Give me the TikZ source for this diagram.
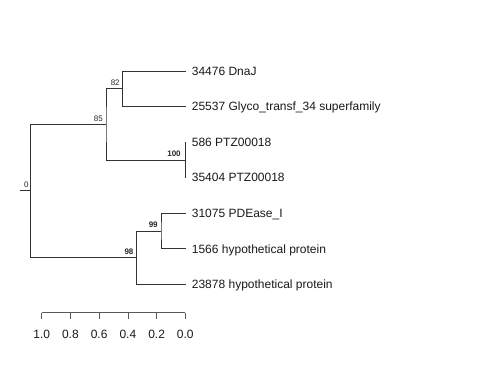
\documentclass[tikz,border=0pt]{standalone}
\usepackage{fontspec}
\setmainfont{Liberation Sans}
\begin{document}
\begin{tikzpicture}[x=1pt,y=-1pt,
  edge/.style={draw=black!80,line width=0.8pt},
  axisline/.style={draw=black!65,line width=0.8pt},
  leaf/.style={anchor=base west,inner sep=0pt,font=\fontsize{12}{14}\selectfont,text=black!90},
  support/.style={anchor=base,inner sep=0pt,font=\fontsize{8}{9}\selectfont,text=black!85},
  bsupport/.style={support,font=\fontsize{8}{9}\selectfont\bfseries},
  ticklab/.style={anchor=base,inner sep=0pt,font=\fontsize{12}{14}\selectfont,text=black!90}]
\useasboundingbox (0,0) rectangle (480,384);
% internal nodes
\coordinate (rs) at (20,190.8);
\coordinate (r) at (30.7,190.8);
\coordinate (n85) at (106,124.3);
\coordinate (n82) at (122.5,88.7);
\coordinate (n100) at (185.5,160);
\coordinate (n98) at (136.7,257.5);
\coordinate (n99) at (161,230.9);
% leaves
\coordinate (l1) at (185.5,71);
\coordinate (l2) at (185.5,106.5);
\coordinate (l3) at (185.5,142.1);
\coordinate (l4) at (185.5,177.6);
\coordinate (l5) at (185.5,213.2);
\coordinate (l6) at (185.5,248.8);
\coordinate (l7) at (185.5,284.3);
% edges
\draw[edge] (rs) -- (r);
\draw[edge] (n85) -| (r) |- (n98);
\draw[edge] (n82) -| (n85) |- (n100);
\draw[edge] (l1) -| (n82) |- (l2);
\draw[edge] (l3) -- (l4);
\draw[edge] (n99) -| (n98) |- (l7);
\draw[edge] (l5) -| (n99) |- (l6);
% leaf labels
\node[leaf] (t1) at (191.7,75.3) {34476 DnaJ};
\node[leaf] (t2) at (191.7,110.8) {25537 Glyco\_transf\_34 superfamily};
\node[leaf] (t3) at (191.7,146.4) {586 PTZ00018};
\node[leaf] (t4) at (191.7,181.9) {35404 PTZ00018};
\node[leaf] (t5) at (191.7,217.5) {31075 PDEase\_I};
\node[leaf] (t6) at (191.7,253.1) {1566 hypothetical protein};
\node[leaf] (t7) at (191.7,288.6) {23878 hypothetical protein};
% support labels
\node[support] (s82) at (115.2,85.5) {82};
\node[support] (s85) at (98.3,121) {85};
\node[bsupport] (s100) at (174,156.5) {100};
\node[support] (s0) at (26.3,187) {0};
\node[bsupport] (s99) at (153.2,227.2) {99};
\node[bsupport] (s98) at (129,254) {98};
% scale axis
\coordinate (a10) at (41.7,312.7);
\coordinate (a08) at (70.4,312.7);
\coordinate (a06) at (99.1,312.7);
\coordinate (a04) at (127.9,312.7);
\coordinate (a02) at (156.6,312.7);
\coordinate (a00) at (185.3,312.7);
\draw[axisline] (a10) -- (a00);
\foreach \p in {a10,a08,a06,a04,a02,a00} \draw[axisline] (\p) -- ++(0,6);
\node[ticklab] (x10) at (41.7,338) {1.0};
\node[ticklab] (x08) at (70.4,338) {0.8};
\node[ticklab] (x06) at (99.1,338) {0.6};
\node[ticklab] (x04) at (127.9,338) {0.4};
\node[ticklab] (x02) at (156.6,338) {0.2};
\node[ticklab] (x00) at (185.3,338) {0.0};
\end{tikzpicture}
\end{document}
